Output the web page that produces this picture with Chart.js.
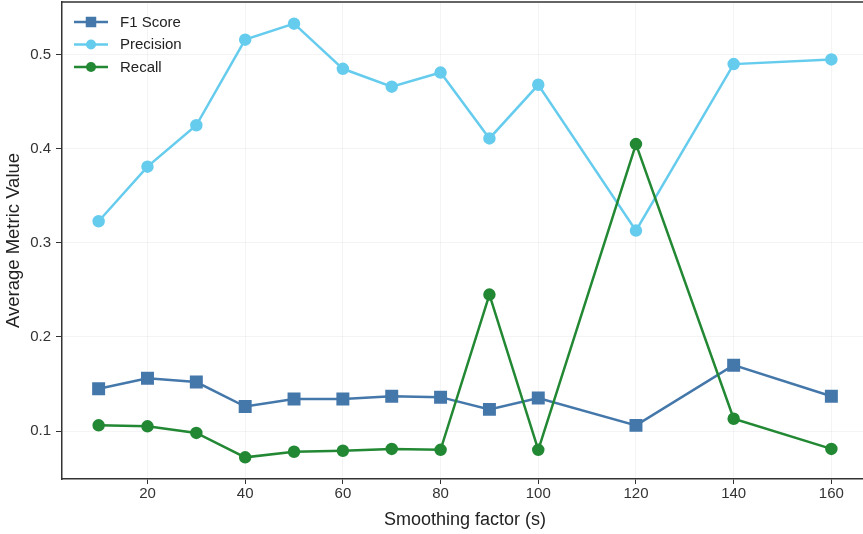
<!DOCTYPE html>
<html>
<head>
<meta charset="utf-8">
<script src="https://cdn.jsdelivr.net/npm/chart.js@4.4.1/dist/chart.umd.min.js"></script>
<style>
  html, body { margin: 0; padding: 0; background: #ffffff; overflow: hidden; }
  #wrap { width: 868px; height: 534px; }
</style>
</head>
<body>
<div id="wrap"><canvas id="c" width="868" height="534"></canvas></div>
<script>
const smoothing = [10, 20, 30, 40, 50, 60, 70, 80, 90, 100, 120, 140, 160];
const f1Score   = [0.145, 0.156, 0.152, 0.126, 0.134, 0.134, 0.137, 0.136, 0.123, 0.135, 0.106, 0.170, 0.137];
const precision = [0.323, 0.381, 0.425, 0.516, 0.533, 0.485, 0.466, 0.481, 0.411, 0.468, 0.313, 0.490, 0.495];
const recall    = [0.106, 0.105, 0.098, 0.072, 0.078, 0.079, 0.081, 0.080, 0.245, 0.080, 0.405, 0.113, 0.081];
const xTickValues = [20, 40, 60, 80, 100, 120, 140, 160];
const yTickValues = [0.1, 0.2, 0.3, 0.4, 0.5];

const FONT = "'Liberation Sans', Arial, Helvetica, sans-serif";

function pts(ys) { return smoothing.map((x, i) => ({ x: x, y: ys[i] })); }

const frame = {
  id: 'frame',
  afterDraw(chart) {
    const { ctx, chartArea: a } = chart;
    ctx.save();
    ctx.strokeStyle = '#333333';
    ctx.lineWidth = 1.5;
    ctx.beginPath();
    ctx.moveTo(a.left, a.top); ctx.lineTo(a.right, a.top);
    ctx.moveTo(a.right, a.top); ctx.lineTo(a.right, a.bottom);
    ctx.stroke();
    ctx.restore();
  }
};

const insideLegend = {
  id: 'insideLegend',
  afterDraw(chart) {
    const { ctx } = chart;
    ctx.save();
    chart.data.datasets.forEach((ds, i) => {
      const y = 22 + i * 22.5;
      ctx.strokeStyle = ds.borderColor;
      ctx.lineWidth = 2.5;
      ctx.beginPath(); ctx.moveTo(74, y); ctx.lineTo(108, y); ctx.stroke();
      ctx.fillStyle = ds.backgroundColor;
      if (ds.pointStyle === 'rect') {
        ctx.fillRect(91 - 5.25, y - 5.25, 10.5, 10.5);
      } else {
        ctx.beginPath(); ctx.arc(91, y, 5, 0, Math.PI * 2); ctx.fill();
      }
      ctx.fillStyle = '#222222';
      ctx.font = '15px ' + FONT;
      ctx.textBaseline = 'middle';
      ctx.textAlign = 'left';
      ctx.fillText(ds.label, 120, y + 0.5);
    });
    ctx.restore();
  }
};

new Chart(document.getElementById('c'), {
  type: 'line',
  data: {
    datasets: [
      { label: 'F1 Score', data: pts(f1Score), borderColor: '#4477AA', backgroundColor: '#4477AA',
        pointStyle: 'rect', pointRadius: 7.4, borderWidth: 2.5, order: 3 },
      { label: 'Precision', data: pts(precision), borderColor: '#66CCEE', backgroundColor: '#66CCEE',
        pointStyle: 'circle', pointRadius: 5, borderWidth: 2.5, order: 2 },
      { label: 'Recall', data: pts(recall), borderColor: '#228833', backgroundColor: '#228833',
        pointStyle: 'circle', pointRadius: 5, borderWidth: 2.5, order: 1 }
    ]
  },
  options: {
    responsive: false,
    animation: false,
    devicePixelRatio: 1,
    layout: { autoPadding: false, padding: { top: 2, right: 0, left: 0, bottom: 0 } },
    plugins: { legend: { display: false }, tooltip: { enabled: false } },
    elements: { line: { tension: 0 }, point: { borderWidth: 0 } },
    scales: {
      x: {
        type: 'linear',
        min: 2.5, max: 167.5,
        afterBuildTicks(s) { s.ticks = xTickValues.map(v => ({ value: v })); },
        afterFit(s) { s.height = 55; s.paddingLeft = 0; s.paddingRight = 0; },
        grid: { color: 'rgba(0,0,0,0.045)', tickColor: '#333333', tickLength: 5, lineWidth: 1 },
        border: { display: true, color: '#333333', width: 1.5 },
        ticks: { color: '#333333', font: { family: FONT, size: 15 }, padding: 1, maxRotation: 0 },
        title: { display: true, text: 'Smoothing factor (s)', color: '#222222',
                 font: { family: FONT, size: 18 }, padding: { top: 0, bottom: 3 } }
      },
      y: {
        type: 'linear',
        min: 0.049, max: 0.556,
        afterBuildTicks(s) { s.ticks = yTickValues.map(v => ({ value: v })); },
        afterFit(s) { s.width = 62; s.paddingTop = 0; s.paddingBottom = 0; },
        grid: { color: 'rgba(0,0,0,0.045)', tickColor: '#333333', tickLength: 6, lineWidth: 1 },
        border: { display: true, color: '#333333', width: 1.5 },
        ticks: { color: '#333333', font: { family: FONT, size: 15 }, padding: 5,
                 callback: v => String(v) },
        title: { display: true, text: 'Average Metric Value', color: '#222222',
                 font: { family: FONT, size: 18.5 }, padding: { top: 3, bottom: 2 } }
      }
    }
  },
  plugins: [frame, insideLegend]
});
</script>
</body>
</html>
